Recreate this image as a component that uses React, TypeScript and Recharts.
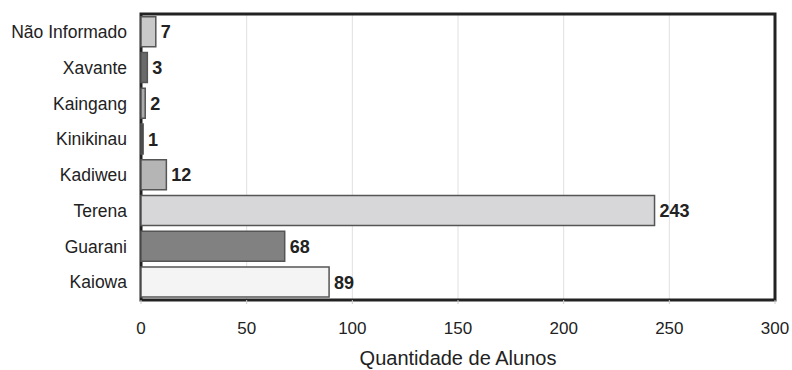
import React from 'react';
import { BarChart, Bar, XAxis, YAxis, CartesianGrid, Cell, LabelList, ReferenceArea } from 'recharts';

const categories = ['Não Informado', 'Xavante', 'Kaingang', 'Kinikinau', 'Kadiweu', 'Terena', 'Guarani', 'Kaiowa'];
const values = [7, 3, 2, 1, 12, 243, 68, 89];
const xTicks = [0, 50, 100, 150, 200, 250, 300];
const barColors = ['#c9c9c9', '#6a6a6a', '#ababab', '#3a3a3a', '#b5b5b5', '#d7d7d9', '#818181', '#f4f4f4'];

const data = categories.map((name, i) => ({ name, value: values[i] }));

const FONT = 'Liberation Sans, Arial, Helvetica, sans-serif';

export default function App() {
  return (
    <div style={{ position: 'absolute', left: 0, top: 0, width: 792, height: 370, background: '#fff', overflow: 'hidden' }}>
      <BarChart
        width={792}
        height={370}
        data={data}
        layout="vertical"
        margin={{ top: 14, right: 17, left: 0, bottom: 0 }}
        barCategoryGap="8%"
      >
        <CartesianGrid horizontal={false} vertical={true} stroke="#e0e0e0" strokeWidth={1} />
        <XAxis
          type="number"
          domain={[0, 300]}
          ticks={xTicks}
          axisLine={false}
          tickLine={{ stroke: '#cccccc' }}
          tickSize={4}
          tickMargin={18}
          height={70}
          tick={{ fill: '#222', fontSize: 17, fontFamily: FONT }}
          label={{ value: 'Quantidade de Alunos', position: 'insideBottom', offset: 5, fill: '#222', fontSize: 20, fontFamily: FONT }}
        />
        <YAxis
          type="category"
          dataKey="name"
          width={141}
          axisLine={false}
          tickLine={false}
          tickSize={0}
          tickMargin={14}
          interval={0}
          tick={{ fill: '#222', fontSize: 17.5, fontFamily: FONT }}
        />
        <Bar dataKey="value" isAnimationActive={false} stroke="#555" strokeWidth={1.5}>
          {data.map((d, i) => (
            <Cell key={d.name} fill={barColors[i]} />
          ))}
          <LabelList dataKey="value" position="right" offset={5} fill="#222" fontSize={18} fontWeight="bold" fontFamily={FONT} />
        </Bar>
        <ReferenceArea x1={0} x2={300} fill="none" stroke="#222" strokeWidth={3} ifOverflow="visible" />
      </BarChart>
    </div>
  );
}
